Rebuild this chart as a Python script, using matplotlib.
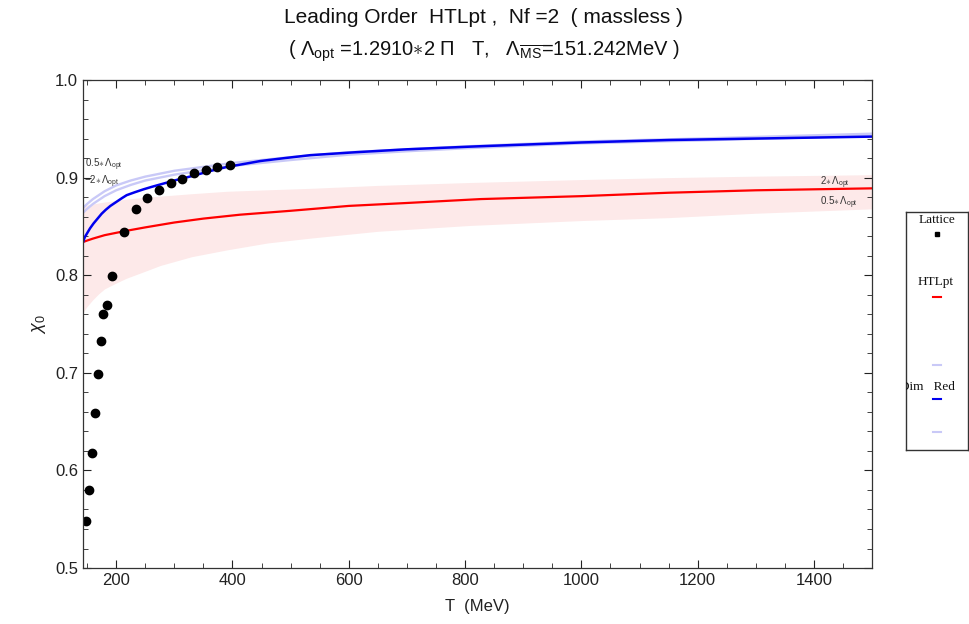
import numpy as np
import matplotlib
matplotlib.use("Agg")
import matplotlib.pyplot as plt
from matplotlib.ticker import MultipleLocator

plt.rcParams['font.family'] = ['Liberation Sans', 'DejaVu Sans']
plt.rcParams['mathtext.fontset'] = 'custom'
plt.rcParams['mathtext.rm'] = 'Liberation Sans'
plt.rcParams['mathtext.it'] = 'Liberation Sans:italic'
plt.rcParams['mathtext.bf'] = 'Liberation Sans:bold'

# lattice data
lat_T = [148, 153, 159, 164, 169, 174, 178, 184, 193, 214, 234, 253, 274,
         295, 314, 334, 355, 374, 395]
lat_chi = [0.548, 0.580, 0.618, 0.659, 0.699, 0.733, 0.760, 0.769, 0.799,
           0.844, 0.868, 0.879, 0.887, 0.894, 0.899, 0.905, 0.908, 0.911, 0.913]

# HTLpt leading order, central scale and band (2*Lopt upper, 0.5*Lopt lower)
htl_T = [143, 150, 160, 180, 213, 250, 300, 350, 413, 500, 600, 700, 827,
         1000, 1150, 1300, 1500]
htl_chi = [0.834, 0.8355, 0.8375, 0.841, 0.845, 0.849, 0.854, 0.858, 0.862,
           0.866, 0.871, 0.874, 0.878, 0.881, 0.8845, 0.887, 0.889]
band_T = [143, 150, 160, 170, 180, 200, 218, 245, 276, 330, 391, 460, 534,
          650, 809, 1000, 1150, 1300, 1500]
band_hi = [0.871, 0.872, 0.873, 0.874, 0.875, 0.8765, 0.878, 0.8795, 0.881,
           0.8835, 0.886, 0.8875, 0.889, 0.892, 0.895, 0.898, 0.900, 0.9015, 0.903]
band_lo = [0.762, 0.768, 0.775, 0.781, 0.786, 0.792, 0.797, 0.803, 0.810,
           0.819, 0.826, 0.833, 0.838, 0.845, 0.851, 0.856, 0.859, 0.8635, 0.868]

# dimensional reduction, central and the two scale variations
dr_T = [143, 146, 150, 155, 161, 168, 175, 182, 190, 200, 210, 218, 232, 247,
        261, 276, 300, 333, 360, 391, 420, 448, 490, 534, 612, 700, 820, 1000,
        1150, 1300, 1500]
dr_chi = [0.834, 0.839, 0.843, 0.848, 0.853, 0.858, 0.863, 0.867, 0.871,
          0.875, 0.879, 0.882, 0.885, 0.888, 0.8905, 0.893, 0.897, 0.902,
          0.9065, 0.911, 0.914, 0.917, 0.920, 0.923, 0.926, 0.929, 0.932,
          0.936, 0.9385, 0.940, 0.942]
drv_T = [143, 150, 160, 170, 180, 200, 225, 250, 300, 350, 400, 500, 600,
         700, 800, 1000, 1200, 1500]
dr_half = [0.869, 0.873, 0.878, 0.882, 0.886, 0.892, 0.897, 0.901, 0.907,
           0.911, 0.915, 0.921, 0.926, 0.929, 0.932, 0.937, 0.940, 0.945]
dr_two = [0.864, 0.868, 0.873, 0.877, 0.881, 0.887, 0.8925, 0.897, 0.903,
          0.9075, 0.912, 0.918, 0.9235, 0.927, 0.930, 0.935, 0.938, 0.943]

light_blue = '#c9c9f7'
pink = '#fde9e9'
blue = '#0000ee'

fig = plt.figure(figsize=(9.69, 6.24), dpi=100)
ax = fig.add_axes([0.0857, 0.0897, 0.8143, 0.7821])

ax.fill_between(band_T, band_lo, band_hi, color=pink, lw=0)
ax.plot(drv_T, dr_half, color=light_blue, lw=1.7)
ax.plot(drv_T, dr_two, color=light_blue, lw=1.7)
ax.plot(htl_T, htl_chi, color='red', lw=1.6)
ax.plot(dr_T, dr_chi, color=blue, lw=1.8)
ax.plot(lat_T, lat_chi, 'o', color='black', ms=6)

ax.set_xlim(143, 1500)
ax.set_ylim(0.5, 1.0)
ax.xaxis.set_major_locator(MultipleLocator(200))
ax.xaxis.set_minor_locator(MultipleLocator(50))
ax.yaxis.set_major_locator(MultipleLocator(0.1))
ax.yaxis.set_minor_locator(MultipleLocator(0.02))
ax.yaxis.set_major_formatter(matplotlib.ticker.FormatStrFormatter('%.1f'))
ax.tick_params(which='both', direction='in', top=True, right=True,
               labelsize=12, colors='#222222')
ax.tick_params(which='major', length=6)
ax.tick_params(which='minor', length=3.5)
for s in ax.spines.values():
    s.set_linewidth(0.9)
    s.set_color('#333333')

ax.set_xlabel('T  (MeV)', fontsize=12, color='#222222', labelpad=8)
ax.set_ylabel(r'$\chi_0$', fontsize=13, color='#222222', labelpad=5)

fig.text(0.499, 0.972, 'Leading Order  HTLpt ,  Nf =2  ( massless )',
         ha='center', va='center', fontsize=15, color='#111111')
fig.text(0.499, 0.918,
         r'( $\Lambda_{\rm opt}$ =1.2910$\ast$2 $\Pi$   T,   $\Lambda_{\overline{\rm MS}}$=151.242MeV )',
         ha='center', va='center', fontsize=14.5, color='#111111')

small = dict(fontsize=7, color='#333333')
ax.text(146, 0.913, r'0.5$\ast\,\Lambda_{\rm opt}$', ha='left', va='center', **small)
ax.text(145, 0.8955, r'$-$2$\ast\,\Lambda_{\rm opt}$', ha='left', va='center', **small)
ax.text(1462, 0.8945, r'2$\ast\,\Lambda_{\rm opt}$', ha='right', va='center', **small)
ax.text(1476, 0.8745, r'0.5$\ast\,\Lambda_{\rm opt}$', ha='right', va='center', **small)

# legend box in Mathematica style
lg = fig.add_axes([0.935, 0.279, 0.064, 0.381])
lg.set_xlim(0, 1)
lg.set_ylim(0, 1)
lg.set_xticks([])
lg.set_yticks([])
for s in lg.spines.values():
    s.set_linewidth(1.0)
    s.set_color('#333333')
serif = dict(family='Liberation Serif', fontsize=9.5, ha='center', va='center',
             color='#111111', clip_on=False)
lg.text(0.5, 0.965, 'Lattice', **serif)
lg.plot([0.5], [0.91], 's', color='black', ms=3.5)
lg.text(0.47, 0.705, 'HTLpt', **serif)
lg.plot([0.44, 0.56], [0.642, 0.642], color='red', lw=1.5)
lg.plot([0.44, 0.56], [0.357, 0.357], color=light_blue, lw=1.5)
t = lg.text(0.34, 0.265, 'Dim   Red', **serif)
t.set_clip_on(True)
lg.plot([0.44, 0.56], [0.214, 0.214], color=blue, lw=1.5)
lg.plot([0.44, 0.56], [0.075, 0.075], color=light_blue, lw=1.5)

fig.savefig('out.png', dpi=100)
